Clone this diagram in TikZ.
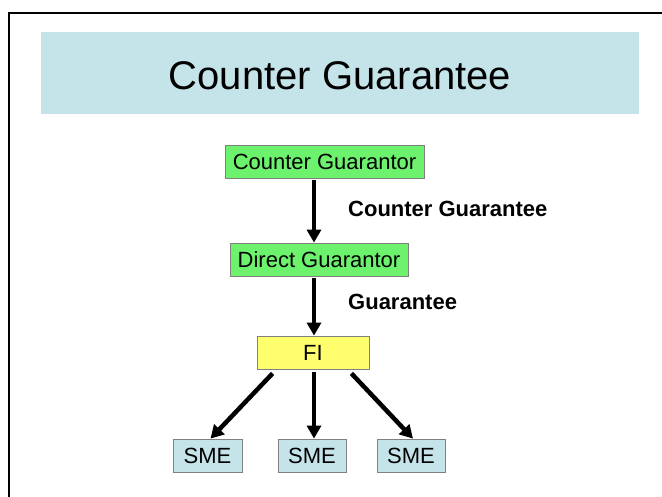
\documentclass[tikz,border=0pt]{standalone}
\usepackage{fontspec}
\setmainfont{Liberation Sans}
\usetikzlibrary{arrows.meta}
\definecolor{bandblue}{RGB}{197,228,234}
\definecolor{boxgreen}{RGB}{108,242,108}
\definecolor{boxyellow}{RGB}{255,255,110}
\definecolor{boxedge}{RGB}{128,128,128}
\tikzset{
  box/.style={draw=boxedge, line width=0.8pt, inner sep=0pt, minimum height=33pt,
    font=\fontsize{22}{26}\selectfont},
  greenbox/.style={box, fill=boxgreen},
  yellowbox/.style={box, fill=boxyellow},
  smebox/.style={box, fill=bandblue, minimum width=68pt},
  arr/.style={line width=4.5pt, -{Triangle[width=14pt,length=13pt]}},
  lbl/.style={anchor=west, inner sep=0pt, font=\fontsize{22}{26}\selectfont\bfseries},
}
\begin{document}
\begin{tikzpicture}[x=1pt,y=-1pt]
\useasboundingbox (0,0) rectangle (662,497);
% frame (only top and left sides visible)
\draw[line width=2.2pt] (9,497) -- (9,13) -- (662,13);
% title band
\node[fill=bandblue, minimum width=598pt, minimum height=82pt, inner sep=0pt] (band) at (340,73) {};
\node[font=\fontsize{40}{48}\selectfont, inner sep=0pt] (title) at (340,76) {Counter Guarantee};
% boxes
\node[greenbox, minimum width=199pt] (CG) at (324.5,161.5) {Counter Guarantor};
\node[greenbox, minimum width=178pt] (DG) at (319,259.5) {Direct Guarantor};
\node[yellowbox, minimum width=112pt] (FI) at (313,352.5) {FI};
\node[smebox, minimum width=69pt] (S1) at (207.5,455.5) {SME};
\node[smebox] (S2) at (312,455.5) {SME};
\node[smebox] (S3) at (411,455.5) {SME};
% labels
\node[lbl] (l1) at (348,209) {Counter Guarantee};
\node[lbl] (l2) at (348,302) {Guarantee};
% arrows
\coordinate (axis) at (314,0);
\draw[arr] ([yshift=-2pt]CG.south -| axis) -- (DG.north -| axis);
\draw[arr] ([yshift=-2pt]DG.south -| axis) -- (FI.north -| axis);
\draw[arr] ([xshift=16pt,yshift=-4pt]FI.south west) -- ([xshift=3pt]S1.north);
\draw[arr] ([yshift=-3pt]FI.south -| axis) -- (S2.north -| axis);
\draw[arr] ([xshift=-18pt,yshift=-4pt]FI.south east) -- ([xshift=2pt]S3.north);
\end{tikzpicture}
\end{document}
